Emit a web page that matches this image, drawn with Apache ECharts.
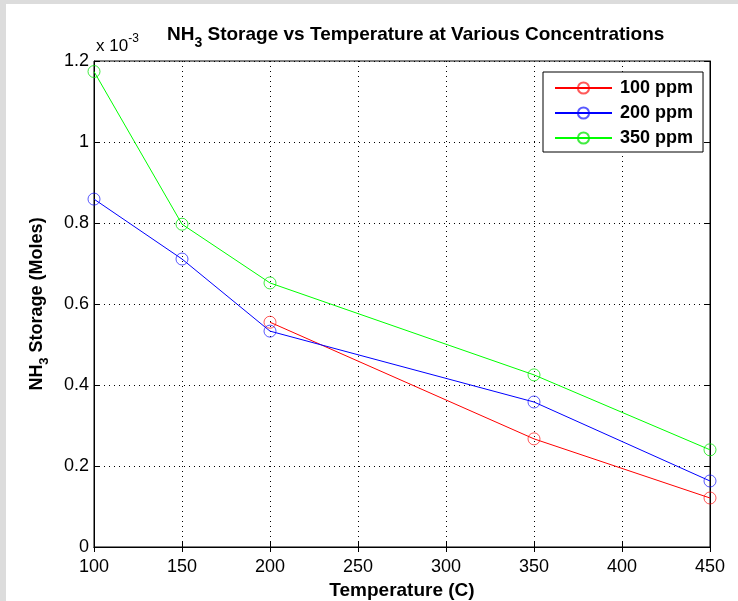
<!DOCTYPE html>
<html>
<head>
<meta charset="utf-8">
<script src="https://cdn.jsdelivr.net/npm/echarts@6/dist/echarts.min.js"></script>
<style>
html,body{margin:0;padding:0;background:#fff;}
#c{width:738px;height:601px;}
</style>
</head>
<body>
<div id="c"></div>
<script>
// Data (NH3 storage in moles)
const temps100 = [200, 350, 450];
const ppm100 = [0.000555, 0.000267, 0.000121];
const temps200 = [100, 150, 200, 350, 450];
const ppm200 = [0.000859, 0.000711, 0.000533, 0.000358, 0.000163];
const temps350 = [100, 150, 200, 350, 450];
const ppm350 = [0.001174, 0.000797, 0.000652, 0.000425, 0.000240];
const seriesNames = ['100 ppm', '200 ppm', '350 ppm'];
const xTicks = [100, 150, 200, 250, 300, 350, 400, 450];
const yTicks = [0, 0.0002, 0.0004, 0.0006, 0.0008, 0.001, 0.0012];

const FONT = '"Liberation Sans", Arial, Helvetica, sans-serif';
const zip = (xs, ys) => xs.map((x, i) => [x, ys[i]]);

const chart = echarts.init(document.getElementById('c'));

const baseX = {
  type: 'value', min: xTicks[0], max: xTicks[xTicks.length - 1], interval: 50
};
const baseY = {
  type: 'value', min: yTicks[0], max: yTicks[yTicks.length - 1], interval: 0.0002
};

function mkSeries(name, xs, ys, color, pale) {
  return {
    name, type: 'line', data: zip(xs, ys),
    symbol: 'circle', symbolSize: 12,
    lineStyle: { color, width: 1 },
    itemStyle: { color: 'rgba(255,255,255,0)', borderColor: pale, borderWidth: 1 },
    emphasis: { disabled: true },
    animation: false
  };
}

chart.setOption({
  backgroundColor: '#fff',
  animation: false,
  title: {
    text: '{a|NH}{s|3}{a| Storage vs Temperature at Various Concentrations}',
    left: 162, top: 15,
    textStyle: {
      rich: {
        a: { fontFamily: FONT, fontWeight: 'bold', fontSize: 19, color: '#000', lineHeight: 30, verticalAlign: 'middle' },
        s: { fontFamily: FONT, fontWeight: 'bold', fontSize: 14, color: '#000', lineHeight: 30, verticalAlign: 'bottom' }
      }
    }
  },
  graphic: [
    { type: 'rect', shape: { x: 0, y: 0, width: 6, height: 601 }, style: { fill: '#dcdcdc' }, silent: true },
    { type: 'rect', shape: { x: 0, y: 0, width: 738, height: 4 }, style: { fill: '#dcdcdc' }, silent: true },
    {
      type: 'text', left: 96, top: 33,
      style: {
        text: '{a|x 10}{b|-3}',
        rich: {
          a: { fontFamily: FONT, fontSize: 17, fill: '#000', lineHeight: 22, verticalAlign: 'bottom' },
          b: { fontFamily: FONT, fontSize: 12, fill: '#000', lineHeight: 22, verticalAlign: 'top' }
        }
      }
    }
  ],
  legend: {
    data: seriesNames,
    orient: 'vertical',
    left: 543, top: 72,
    backgroundColor: '#fff',
    borderColor: '#000', borderWidth: 1, borderRadius: 0,
    padding: [7, 10, 5, 11],
    itemWidth: 57, itemHeight: 14, itemGap: 7,
    textStyle: { fontFamily: FONT, fontWeight: 'bold', fontSize: 18, lineHeight: 14, color: '#000', padding: [0, 0, 0, 3] }
  },
  grid: {
    left: 94, right: 28, top: 61, bottom: 54,
    outerBoundsMode: 'none', containLabel: false,
    show: true, borderColor: '#000', borderWidth: 1, backgroundColor: 'transparent'
  },
  xAxis: [
    Object.assign({}, baseX, {
      position: 'bottom',
      name: 'Temperature (C)', nameLocation: 'middle', nameGap: 23,
      nameTextStyle: { fontFamily: FONT, fontWeight: 'bold', fontSize: 19, color: '#000' },
      axisLine: { show: true, onZero: false, lineStyle: { color: '#000', width: 1 } },
      axisTick: { show: true, inside: true, length: 5, lineStyle: { color: '#000' } },
      axisLabel: { fontFamily: FONT, fontSize: 18, color: '#000', margin: 11 },
      splitLine: { show: true, lineStyle: { color: '#000', type: [1, 4], width: 1 } }
    }),
    Object.assign({}, baseX, {
      position: 'top',
      axisLine: { show: true, lineStyle: { color: '#000', width: 1 } },
      axisTick: { show: true, inside: true, length: 5, lineStyle: { color: '#000' } },
      axisLabel: { show: false },
      splitLine: { show: false }
    })
  ],
  yAxis: [
    Object.assign({}, baseY, {
      position: 'left',
      name: '{a|NH}{s|3}{a| Storage (Moles)}', nameLocation: 'middle', nameGap: 43, nameRotate: 90,
      nameTextStyle: {
        rich: {
          a: { fontFamily: FONT, fontWeight: 'bold', fontSize: 18, color: '#000', lineHeight: 28, verticalAlign: 'middle' },
          s: { fontFamily: FONT, fontWeight: 'bold', fontSize: 13, color: '#000', lineHeight: 28, verticalAlign: 'bottom' }
        }
      },
      axisLine: { show: true, onZero: false, lineStyle: { color: '#000', width: 1 } },
      axisTick: { show: true, inside: true, length: 5, lineStyle: { color: '#000' } },
      axisLabel: {
        fontFamily: FONT, fontSize: 18, color: '#000', margin: 5,
        formatter: v => String(+(v * 1000).toFixed(1))
      },
      splitLine: { show: true, lineStyle: { color: '#000', type: [1, 4], width: 1 } }
    }),
    Object.assign({}, baseY, {
      position: 'right',
      axisLine: { show: true, lineStyle: { color: '#000', width: 1 } },
      axisTick: { show: true, inside: true, length: 5, lineStyle: { color: '#000' } },
      axisLabel: { show: false },
      splitLine: { show: false }
    })
  ],
  series: [
    mkSeries(seriesNames[0], temps100, ppm100, '#ff0000', 'rgba(255,0,0,0.65)'),
    mkSeries(seriesNames[1], temps200, ppm200, '#0000ff', 'rgba(0,0,255,0.65)'),
    mkSeries(seriesNames[2], temps350, ppm350, '#00ff00', 'rgba(0,230,0,0.75)')
  ]
});
</script>
</body>
</html>
